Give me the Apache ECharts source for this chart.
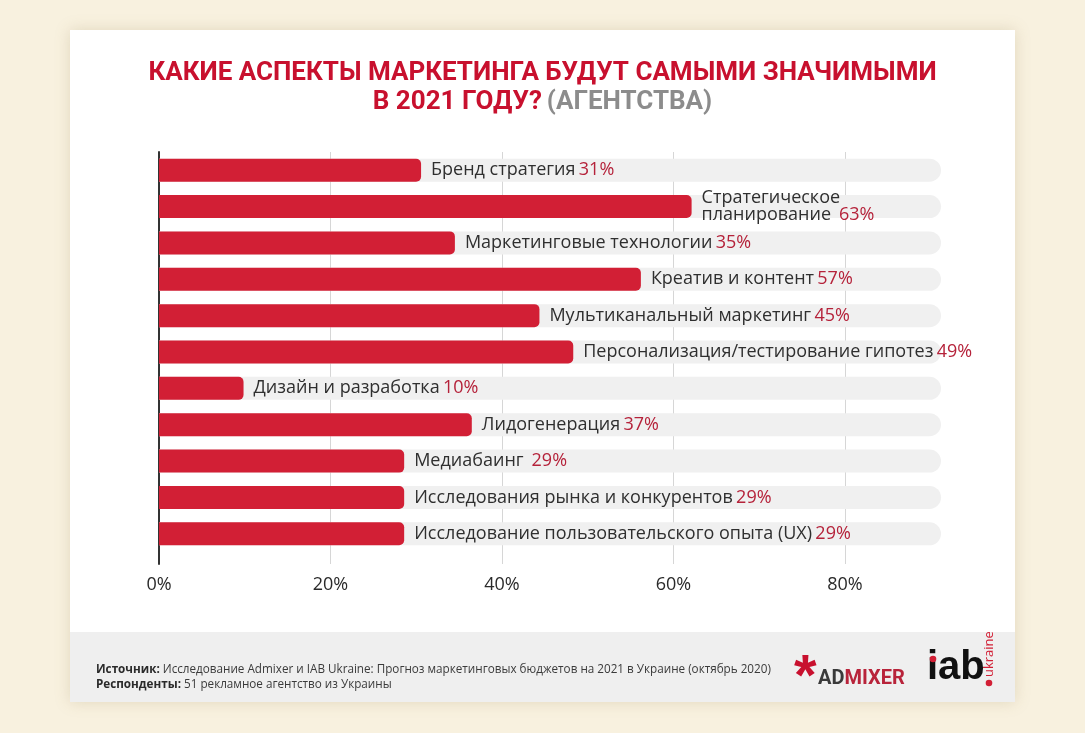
<!DOCTYPE html>
<html><head><meta charset="utf-8">
<script src="https://cdn.jsdelivr.net/npm/echarts@6/dist/echarts.min.js"></script>
<style>html,body{margin:0;padding:0;background:#f8f1df;}#c{width:1085px;height:733px;}</style>
</head><body><div id="c"></div>
<script>
const categories = [
  'Бренд стратегия',
  'Стратегическое\nпланирование ',
  'Маркетинговые технологии',
  'Креатив и контент',
  'Мультиканальный маркетинг',
  'Персонализация/тестирование гипотез',
  'Дизайн и разработка',
  'Лидогенерация',
  'Медиабаинг ',
  'Исследования рынка и конкурентов',
  'Исследование пользовательского опыта (UX)'
];
const values = [31, 63, 35, 57, 45, 49, 10, 37, 29, 29, 29];
const trackMax = 92.5;
const tickLabels = ['0%', '20%', '40%', '60%', '80%'];

const FONT = '"Open Sans", Lato, sans-serif';
const TFONT = 'Roboto, "Liberation Sans", sans-serif';
const chart = echarts.init(document.getElementById('c'), null, {renderer: 'canvas'});
const tracks = categories.map(() => trackMax);

chart.setOption({
  backgroundColor: '#f8f1df',
  animation: false,
  graphic: [
    {type: 'rect', shape: {x: 70, y: 30, width: 945, height: 672}, style: {fill: '#ffffff', shadowBlur: 14, shadowColor: 'rgba(160,140,90,0.25)'}, z: -10},
    {type: 'rect', shape: {x: 70, y: 632, width: 945, height: 70}, style: {fill: '#efefef'}, z: -9},
    {type: 'text', left: 96, top: 662, style: {
      text: '{b|Источник:} Исследование Admixer и IAB Ukraine: Прогноз маркетинговых бюджетов на 2021 в Украине (октябрь 2020)\n{b|Респонденты:} 51 рекламное агентство из Украины',
      font: '11.7px ' + FONT, fill: '#3a3a3a', lineHeight: 15,
      rich: {b: {fontWeight: 'bold', fontSize: 11.7, fontFamily: FONT, fill: '#2a2a2a'}}
    }},
    {type: 'text', left: 794, top: 650, style: {text: '*', font: 'bold 58px "Liberation Sans", sans-serif', fill: '#c8102e'}},
    {type: 'text', left: 818, top: 669, style: {
      text: '{a|AD}{m|MIXER}',
      rich: {a: {fontSize: 20, fontWeight: 'bold', fontFamily: TFONT, fill: '#3a3a3a'},
             m: {fontSize: 20, fontWeight: 'bold', fontFamily: TFONT, fill: '#b8233a'}}
    }},
    {type: 'text', left: 927, top: 648, style: {text: 'iab', font: 'bold 40px "Liberation Sans", sans-serif', fill: '#111111'}},
    {type: 'circle', shape: {cx: 933, cy: 659, r: 3.3}, style: {fill: '#d21f35'}},
    {type: 'circle', shape: {cx: 989, cy: 683, r: 3.3}, style: {fill: '#d21f35'}},
    {type: 'text', x: 983, y: 677, rotation: Math.PI / 2, style: {text: 'ukraine', font: '13px ' + FONT, fill: '#d21f35', verticalAlign: 'top'}}
  ],
  title: {
    text: '{r|КАКИЕ АСПЕКТЫ МАРКЕТИНГА БУДУТ САМЫМИ ЗНАЧИМЫМИ}\n{r|В 2021 ГОДУ?} {g|(АГЕНТСТВА)}',
    left: 'center', top: 54,
    textStyle: {
      lineHeight: 29,
      align: 'center',
      rich: {
        r: {fontSize: 26, fontWeight: 'bold', fontFamily: TFONT, color: '#c8102e', lineHeight: 29},
        g: {fontSize: 26, fontWeight: 'bold', fontFamily: TFONT, color: '#8c8c8c', lineHeight: 29}
      }
    }
  },
  grid: [
    {left: 159, right: 240, top: 152, bottom: 169},
    {left: 159, right: 144, top: 152, height: 400}
  ],
  xAxis: [
    {type: 'value', gridIndex: 0, min: 0, max: 80, interval: 20,
     axisLine: {show: false}, axisTick: {show: false},
     splitLine: {show: true, lineStyle: {color: '#d6d6d6', width: 1}},
     axisLabel: {formatter: v => tickLabels[v / 20], color: '#2a2a2a', fontSize: 18, fontFamily: FONT, margin: 12}},
    {type: 'value', gridIndex: 1, min: 0, max: trackMax, show: false, splitLine: {show: false}}
  ],
  yAxis: [
    {type: 'category', gridIndex: 0, data: ['a'], axisLine: {show: true, lineStyle: {color: '#333333', width: 2}}, axisTick: {show: false}, axisLabel: {show: false}, splitLine: {show: false}},
    {type: 'category', gridIndex: 1, data: categories, inverse: true, show: false}
  ],
  series: [
    {type: 'bar', xAxisIndex: 1, yAxisIndex: 1, data: tracks, barWidth: 23, silent: true,
     itemStyle: {color: '#f0f0f0', borderRadius: [0, 12, 12, 0]}, z: 1},
    {type: 'bar', xAxisIndex: 1, yAxisIndex: 1, data: values, barWidth: 23, barGap: '-100%',
     itemStyle: {color: '#d21f35', borderRadius: [0, 5, 5, 0]}, z: 2,
     label: {show: true, position: 'right', distance: 10,
       formatter: p => {
         const lines = categories[p.dataIndex].split('\n');
         const out = lines.map((l, i) => i < lines.length - 1 ? '{n|' + l + '}' : '{n|' + l + '} {p|' + p.value + '%}');
         return out.join('\n');
       },
       rich: {
         n: {fontSize: 18, fontFamily: FONT, color: '#2f2f2f', lineHeight: 17},
         p: {fontSize: 18, fontFamily: FONT, color: '#b5223a', lineHeight: 17}
       }
     }}
  ]
});
</script></body></html>
